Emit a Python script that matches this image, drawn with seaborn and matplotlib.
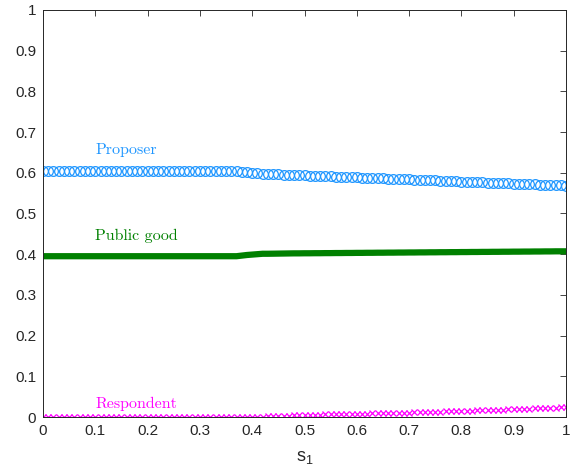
import numpy as np
import pandas as pd
import matplotlib
matplotlib.use("Agg")
import matplotlib.pyplot as plt
import seaborn as sns

# ---- data ----
s1 = [round(i * 0.01, 2) for i in range(101)]

proposer = ([0.604] * 38 +
            [0.603, 0.602, 0.600, 0.599, 0.598, 0.597,
             0.5965, 0.596, 0.5955, 0.595, 0.5945, 0.594, 0.5935, 0.593, 0.5925, 0.592,
             0.5915, 0.591, 0.5905, 0.590, 0.5895, 0.589, 0.5885, 0.588, 0.5875, 0.587,
             0.5865, 0.586, 0.5855, 0.585, 0.5845, 0.584, 0.5835, 0.583, 0.5825, 0.582,
             0.5815, 0.581, 0.5805, 0.580, 0.5795, 0.579, 0.5785, 0.578, 0.5775, 0.577,
             0.5765, 0.576, 0.5755, 0.575, 0.5745, 0.574, 0.5735, 0.573, 0.5725, 0.572,
             0.5715, 0.571, 0.5705, 0.570, 0.5695, 0.569, 0.5685])

public_good = ([0.395] * 38 +
               [0.3965, 0.398, 0.399, 0.400, 0.401, 0.401,
                0.4012, 0.4014, 0.4016, 0.4018, 0.402, 0.402, 0.4022, 0.4022, 0.4024, 0.4024,
                0.4026, 0.4026, 0.4028, 0.4028, 0.403, 0.403, 0.4032, 0.4032, 0.4034, 0.4034,
                0.4036, 0.4036, 0.4038, 0.4038, 0.404, 0.404, 0.4042, 0.4042, 0.4044, 0.4044,
                0.4046, 0.4046, 0.4048, 0.4048, 0.405, 0.405, 0.4052, 0.4052, 0.4054, 0.4054,
                0.4056, 0.4056, 0.4058, 0.4058, 0.406, 0.406, 0.4062, 0.4062, 0.4064, 0.4064,
                0.4066, 0.4066, 0.4068, 0.4068, 0.407, 0.407, 0.407])

respondent = ([0.0] * 41 +
              [0.0005, 0.001, 0.0015, 0.002, 0.0025, 0.003, 0.0035, 0.004, 0.0045, 0.005,
               0.0053, 0.0056, 0.0059, 0.0062, 0.0065, 0.0068, 0.0071, 0.0074, 0.0077, 0.008,
               0.0083, 0.0086, 0.0089, 0.0092, 0.0095, 0.0098, 0.0101, 0.0104, 0.0107, 0.011,
               0.0114, 0.0118, 0.0122, 0.0126, 0.013, 0.0134, 0.0138, 0.0142, 0.0146, 0.015,
               0.0154, 0.0158, 0.0162, 0.0166, 0.017, 0.0174, 0.0178, 0.0182, 0.0186, 0.019,
               0.0195, 0.020, 0.0205, 0.021, 0.0215, 0.022, 0.0225, 0.023, 0.0235, 0.024])

series_labels = ["Proposer", "Public good", "Respondent"]
label_pos = [(0.10, 0.655), (0.10, 0.445), (0.10, 0.032)]
ticks = [round(i * 0.1, 1) for i in range(11)]
tick_labels = ["0", "0.1", "0.2", "0.3", "0.4", "0.5", "0.6", "0.7", "0.8", "0.9", "1"]

c_prop = "#1E96FF"
c_pub = "#008000"
c_resp = "#FF00FF"

sns.set_style("white")
plt.rcParams["font.family"] = ["Liberation Sans", "DejaVu Sans"]
plt.rcParams["mathtext.default"] = "regular"

fig = plt.figure(figsize=(5.72, 4.76), dpi=100)
ax = fig.add_axes([0.0752, 0.1239, 0.9143, 0.8553])

df = pd.DataFrame({"s1": s1, "Proposer": proposer,
                   "Public good": public_good, "Respondent": respondent})

sns.lineplot(data=df, x="s1", y="Proposer", ax=ax, linestyle="", marker="o",
             markersize=7, markerfacecolor="none", markeredgecolor=c_prop,
             markeredgewidth=0.9, color=c_prop)
sns.lineplot(data=df, x="s1", y="Public good", ax=ax, color=c_pub, linewidth=4.5)
sns.lineplot(data=df, x="s1", y="Respondent", ax=ax, linestyle="", marker="x",
             markersize=5, markeredgecolor=c_resp, markeredgewidth=0.9, color=c_resp)

for lab, (px, py), col in zip(series_labels, label_pos, [c_prop, c_pub, c_resp]):
    ax.text(px, py, lab, color=col, fontsize=11.5, family=["cmr10"],
            ha="left", va="center")

ax.set_xlim(0, 1)
ax.set_ylim(0, 1)
ax.set_xticks(ticks)
ax.set_xticklabels(tick_labels)
ax.set_yticks(ticks)
ax.set_yticklabels(tick_labels)
ax.tick_params(direction="in", length=4, width=0.6, top=True, right=True,
               labelsize=11, colors="#262626", pad=5)
for sp in ax.spines.values():
    sp.set_visible(True)
    sp.set_color("#262626")
    sp.set_linewidth(0.7)
ax.set_xlabel("s$_1$", fontsize=13, color="#262626", labelpad=8)
ax.set_ylabel("")

fig.savefig("out.png", dpi=100)
